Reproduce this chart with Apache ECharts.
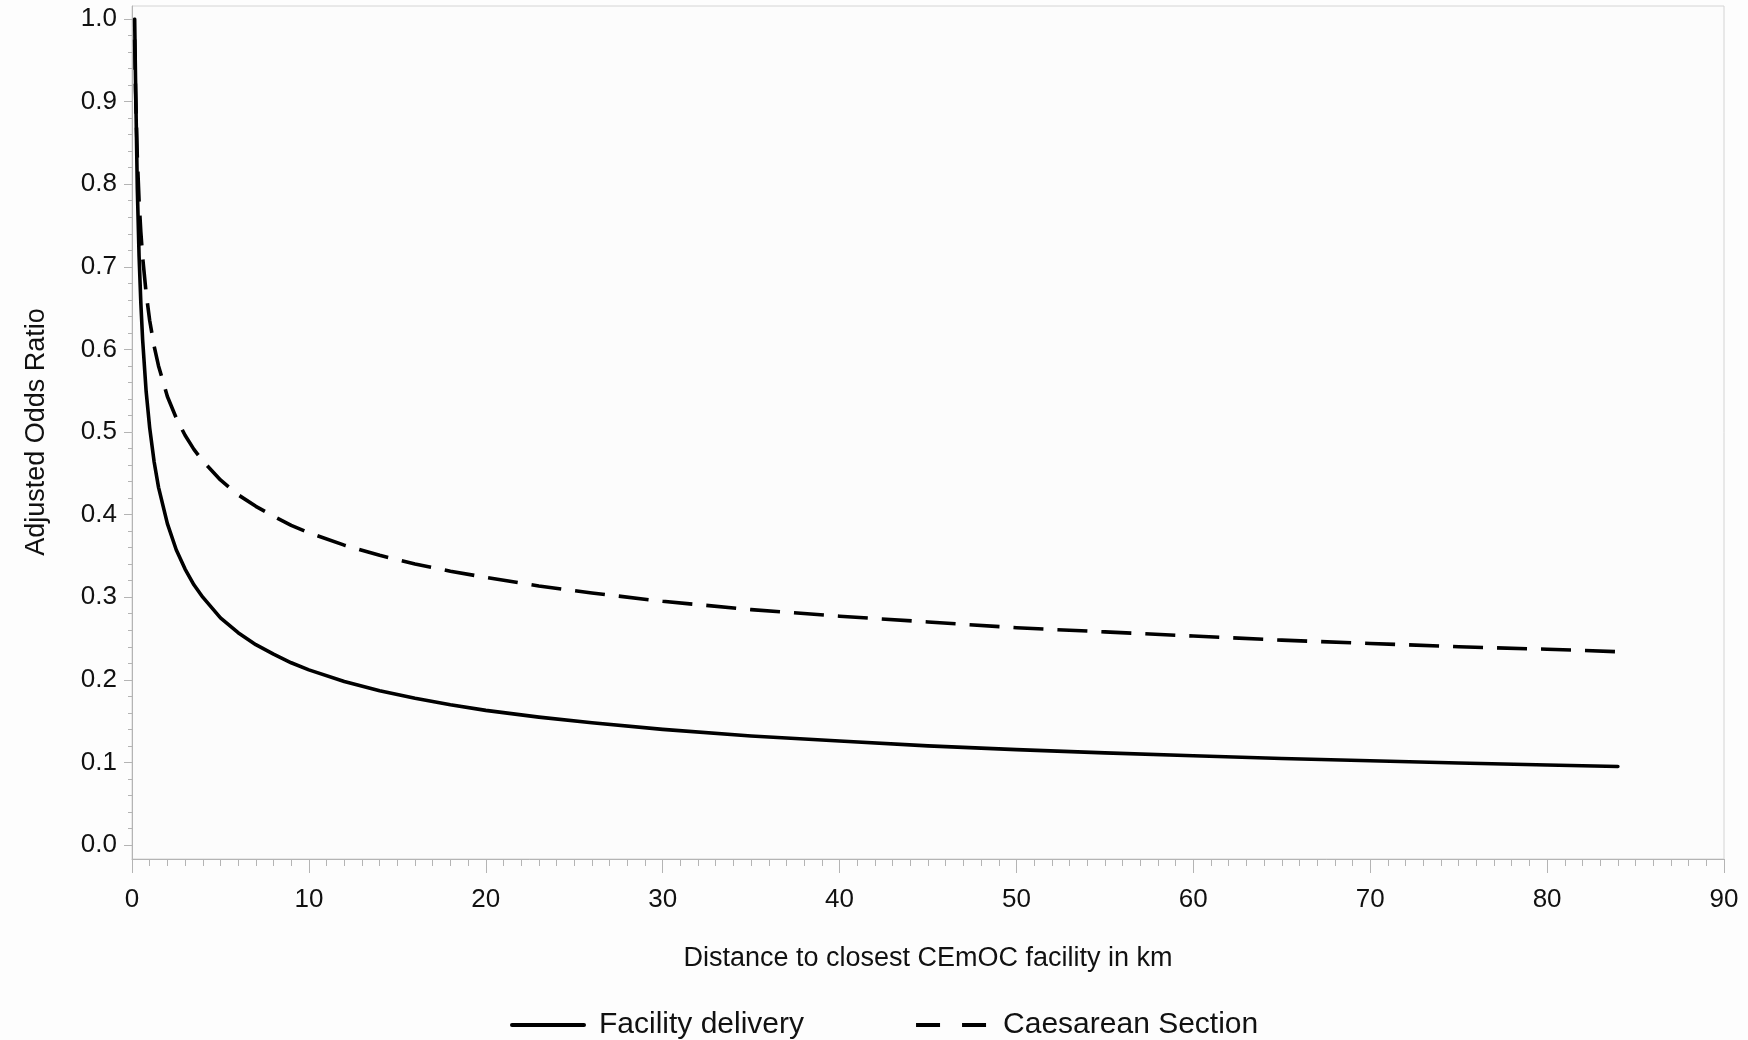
<!DOCTYPE html>
<html>
<head>
<meta charset="utf-8">
<script src="https://cdn.jsdelivr.net/npm/echarts@6/dist/echarts.min.js"></script>
<style>
html,body{margin:0;padding:0;background:#fdfdfd;}
#chart{width:1748px;height:1040px;}
</style>
</head>
<body>
<div id="chart"></div>
<script>
// Distance to closest CEmOC facility (km)
const distances = [0.15, 0.2, 0.3, 0.4, 0.5, 0.6, 0.8, 1, 1.25, 1.5, 2, 2.5, 3, 3.5, 4, 5, 6, 7, 8, 9, 10, 12, 14, 16, 18, 20, 23, 26, 30, 35, 40, 45, 50, 55, 60, 65, 70, 75, 80, 84];
// Adjusted odds ratio
const facilityDelivery = [1.0, 0.926, 0.795, 0.713, 0.656, 0.612, 0.549, 0.505, 0.464, 0.433, 0.389, 0.3575, 0.334, 0.315, 0.300, 0.275, 0.257, 0.2425, 0.231, 0.2206, 0.212, 0.198, 0.1867, 0.1776, 0.1698, 0.163, 0.1548, 0.1479, 0.140, 0.132, 0.126, 0.120, 0.1155, 0.1115, 0.108, 0.1047, 0.102, 0.0992, 0.0968, 0.095];
const caesareanSection = [0.975, 0.912, 0.833, 0.780, 0.742, 0.712, 0.668, 0.635, 0.604, 0.580, 0.543, 0.517, 0.496, 0.479, 0.465, 0.442, 0.424, 0.410, 0.398, 0.387, 0.378, 0.363, 0.3507, 0.3403, 0.3314, 0.324, 0.3136, 0.3051, 0.295, 0.285, 0.277, 0.270, 0.263, 0.258, 0.253, 0.248, 0.244, 0.240, 0.237, 0.234];
const seriesNames = ['Facility delivery', 'Caesarean Section'];
const xTitle = 'Distance to closest CEmOC facility in km';
const yTitle = 'Adjusted Odds Ratio';

const FONT = '"Liberation Sans", Arial, Helvetica, sans-serif';
const AXIS_GREY = '#b4b4b4';

const chart = echarts.init(document.getElementById('chart'));
const pairs = arr => distances.map((d, i) => [d, arr[i]]);

chart.setOption({
  backgroundColor: '#fdfdfd',
  animation: false,
  textStyle: { fontFamily: FONT },
  grid: [
    { left: 132, right: 24, top: 6, bottom: 181, show: true, borderColor: '#d4d4d4', borderWidth: 1, backgroundColor: '#fcfcfc' },
    { left: 132, right: 24, top: 19, bottom: 195 }
  ],
  xAxis: [
    {
      gridIndex: 0, type: 'value', min: 0, max: 90, interval: 10,
      axisLine: { show: true, lineStyle: { color: AXIS_GREY, width: 1 } },
      axisTick: { show: true, length: 14, lineStyle: { color: AXIS_GREY, width: 1 } },
      minorTick: { show: true, splitNumber: 10, length: 7, lineStyle: { color: AXIS_GREY, width: 1 } },
      splitLine: { show: false },
      axisLabel: { margin: 28, fontSize: 26, color: '#111', fontFamily: FONT },
      name: xTitle, nameLocation: 'middle', nameGap: 86,
      nameTextStyle: { fontSize: 27, color: '#111', fontFamily: FONT }
    },
    { gridIndex: 1, type: 'value', min: 0, max: 90, show: false }
  ],
  yAxis: [
    {
      gridIndex: 0, type: 'value', min: 0, max: 1, show: true,
      axisLine: { show: true, lineStyle: { color: AXIS_GREY, width: 1 } },
      axisTick: { show: false }, axisLabel: { show: false }, splitLine: { show: false }
    },
    {
      gridIndex: 1, type: 'value', min: 0, max: 1, interval: 0.1,
      axisLine: { show: false },
      axisTick: { show: true, length: 8, lineStyle: { color: AXIS_GREY, width: 1 } },
      minorTick: { show: true, splitNumber: 5, length: 4, lineStyle: { color: AXIS_GREY, width: 1 } },
      splitLine: { show: false },
      axisLabel: { margin: 15, fontSize: 26, color: '#111', fontFamily: FONT, formatter: v => v.toFixed(1) },
      name: yTitle, nameLocation: 'middle', nameRotate: 90, nameGap: 82,
      nameTextStyle: { fontSize: 27, color: '#111', fontFamily: FONT }
    }
  ],
  legend: {
    left: 505, top: 1005, itemWidth: 72, itemHeight: 30, itemGap: 110,
    itemStyle: { opacity: 0 },
    lineStyle: { width: 4, color: '#000' },
    textStyle: { fontSize: 30, color: '#111', fontFamily: FONT, padding: [0, 0, 0, 10] },
    data: [
      { name: seriesNames[0] },
      { name: seriesNames[1], lineStyle: { type: [24, 22], width: 4 } }
    ]
  },
  series: [
    {
      name: seriesNames[0], type: 'line', xAxisIndex: 1, yAxisIndex: 1,
      data: pairs(facilityDelivery), showSymbol: false, symbol: 'none',
      smooth: false,
      lineStyle: { color: '#000', width: 3.6, type: 'solid', join: 'round', cap: 'round' }, itemStyle: { color: '#000' }
    },
    {
      name: seriesNames[1], type: 'line', xAxisIndex: 1, yAxisIndex: 1,
      data: pairs(caesareanSection), showSymbol: false, symbol: 'none',
      smooth: false,
      lineStyle: { color: '#000', width: 3.6, type: [30, 14], join: 'round' }, itemStyle: { color: '#000' }
    }
  ]
});
</script>
</body>
</html>
